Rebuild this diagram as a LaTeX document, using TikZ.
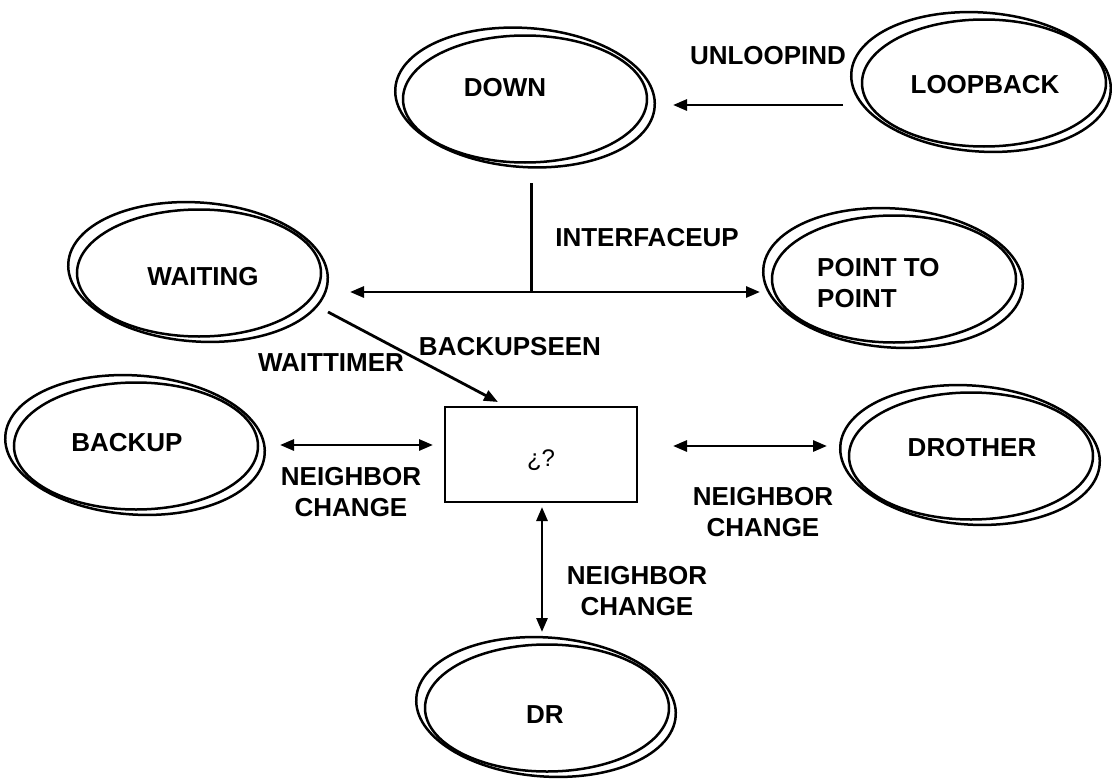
\documentclass[tikz,border=0pt]{standalone}
\usepackage{fontspec}
\setmainfont{Liberation Sans}
\usetikzlibrary{arrows.meta,shapes.geometric,calc}
\begin{document}
\begin{tikzpicture}[x=1pt,y=-1pt,
  stin/.style={ellipse,draw,line width=2.5pt,minimum width=244pt,minimum height=127pt,inner sep=0pt},
  stout/.style={ellipse,draw,line width=2.5pt,minimum width=260pt,minimum height=139pt,inner sep=0pt,rotate=-4},
  lbl/.style={font=\fontsize{26}{31}\selectfont\bfseries,inner sep=0pt,align=center},
  tip/.tip={Triangle[length=14pt,width=11pt]},
  arr/.style={line width=2.8pt,-tip},
  dbl/.style={line width=2.8pt,tip-tip},
  plain/.style={line width=3pt},
]
\useasboundingbox (0,0) rectangle (1112,779);

% states
\node[stin] (down) at (525,99) {};
\node[stout] (downo) at (525,97.5) {};
\node[lbl] (downt) at (505,88) {DOWN};

\node[stin] (loop) at (984,83) {};
\node[stout] (loopo) at (981,82) {};
\node[lbl] (loopt) at (985,85) {LOOPBACK};

\node[stin] (wait) at (199,273) {};
\node[stout] (waito) at (198,272) {};
\node[lbl] (waitt) at (203,277) {WAITING};

\node[stin] (p2p) at (894,279) {};
\node[stout] (p2po) at (893,278) {};
\node[lbl,align=left,anchor=west] (p2pt) at (817,283) {POINT TO\\POINT};

\node[stin] (backup) at (136,446) {};
\node[stout] (backupo) at (135,445) {};
\node[lbl] (backupt) at (127,443) {BACKUP};

\node[stin] (drother) at (971,456) {};
\node[stout] (drothero) at (970,455) {};
\node[lbl] (drothert) at (972,448) {DROTHER};

\node[stin] (dr) at (547,708) {};
\node[stout] (dro) at (546,707) {};
\node[lbl] (drt) at (545,715) {DR};

% unknown box
\node[draw,line width=2.2pt,minimum width=192pt,minimum height=95pt,inner sep=0pt] (box) at (541,454.5) {};
\node[font=\fontsize{24}{28}\selectfont,inner sep=0pt] (boxt) at (541,460) {¿?};

% connector end points
\coordinate (ulA) at (843,105);
\coordinate (ulB) at (673,105);
\coordinate (ifTop) at (531,183);
\coordinate (ifMid) at (531,292);
\coordinate (ifL) at (350,292);
\coordinate (ifR) at (760,292);
\coordinate (wtA) at (328,312);
\coordinate (wtB) at (498,402);
\coordinate (lfA) at (280,445);
\coordinate (lfB) at (433,445);
\coordinate (rtA) at (673,446);
\coordinate (rtB) at (827,446);
\coordinate (vtA) at (542,507);
\coordinate (vtB) at (542,632);

% connectors
\draw[arr] (ulA) -- (ulB);
\draw[plain] (ifTop) -- (ifMid);
\draw[dbl] (ifL) -- (ifR);
\draw[arr] (wtA) -- (wtB);
\draw[dbl] (lfA) -- (lfB);
\draw[dbl] (rtA) -- (rtB);
\draw[dbl] (vtA) -- (vtB);

% labels
\node[lbl] (unl) at (768,56) {UNLOOPIND};
\node[lbl] (ifu) at (647,238) {INTERFACEUP};
\node[lbl] (wtm) at (331,363) {WAITTIMER};
\node[lbl] (bks) at (510,347) {BACKUPSEEN};
\node[lbl] (nc1) at (351,492) {NEIGHBOR\\CHANGE};
\node[lbl] (nc2) at (763,512) {NEIGHBOR\\CHANGE};
\node[lbl] (nc3) at (637,591) {NEIGHBOR\\CHANGE};
\end{tikzpicture}
\end{document}
